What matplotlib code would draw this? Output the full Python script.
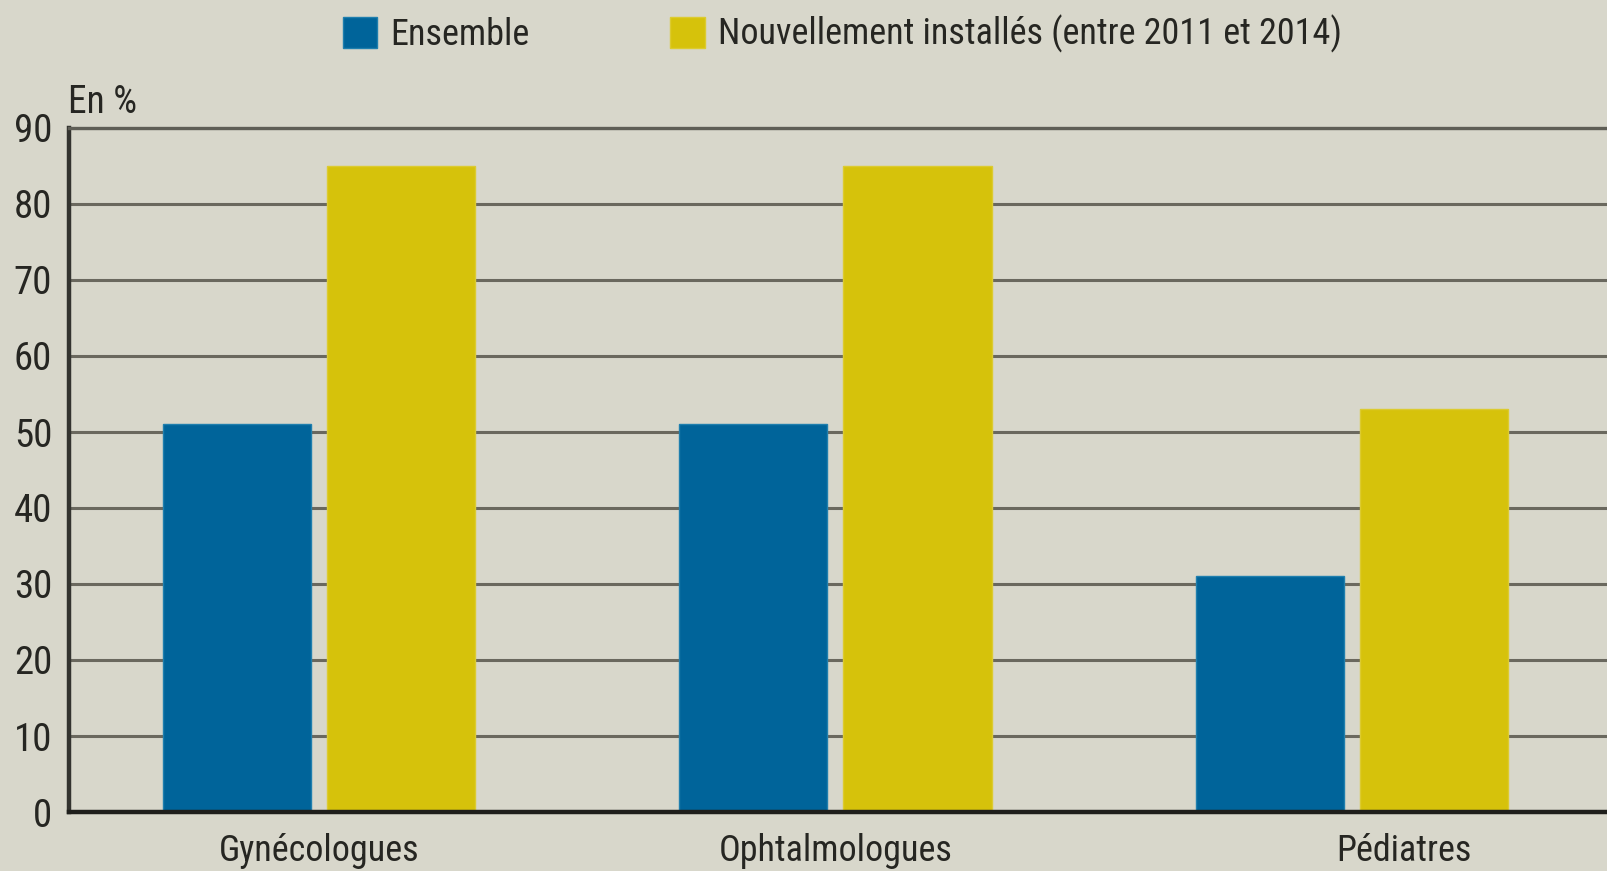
import numpy as np
import matplotlib.pyplot as plt
from matplotlib import rcParams
from matplotlib.patches import Patch

# Style: condensed sans, like the original
rcParams['font.family'] = ['Roboto Condensed', 'Archivo Narrow', 'PT Sans Narrow',
                           'IBM Plex Sans Condensed', 'Liberation Sans', 'DejaVu Sans']
rcParams['font.size'] = 26
rcParams['text.color'] = '#262622'
rcParams['xtick.color'] = '#262622'
rcParams['ytick.color'] = '#262622'

BG = '#d8d7cb'
BLUE = '#00649a'
YELLOW = '#d6c20b'

# Data
categories = ['Gynécologues', 'Ophtalmologues', 'Pédiatres']
ensemble = [51, 51, 31]
nouveaux = [85, 85, 53]
series_labels = ['Ensemble', 'Nouvellement installés (entre 2011 et 2014)']
yticks = [0, 10, 20, 30, 40, 50, 60, 70, 80, 90]

x = np.arange(len(categories))
width = 0.287
offset = 0.159
label_shift = np.array([0.0, 0.0, 0.1])

fig = plt.figure(figsize=(16.08, 8.71), dpi=100, facecolor=BG)
ax = fig.add_axes([69 / 1608, 1 - 812 / 871, 1 - 69 / 1608, (812 - 128) / 871])
ax.set_facecolor(BG)

ax.bar(x - offset, ensemble, width, color=BLUE, edgecolor='#1f7fae', linewidth=1.0, zorder=3)
ax.bar(x + offset, nouveaux, width, color=YELLOW, edgecolor='#dccb30', linewidth=1.0, zorder=3)

ax.set_ylim(0, 90)
ax.set_xlim(-0.484, 2.496)
ax.set_yticks(yticks)
ax.set_xticks(x + label_shift)
ax.set_xticklabels(categories)
ax.tick_params(axis='both', length=0)
ax.tick_params(axis='y', pad=12, labelsize=28)
ax.tick_params(axis='x', pad=15)

ax.yaxis.grid(True, color='#6a685e', linewidth=2.2, zorder=0)
ax.set_axisbelow(True)

ax.spines['right'].set_visible(False)
ax.spines['top'].set_color('#5f5e56')
ax.spines['top'].set_linewidth(2.4)
ax.spines['left'].set_color('#33332f')
ax.spines['left'].set_linewidth(3.2)
ax.spines['bottom'].set_color('#1f1f1c')
ax.spines['bottom'].set_linewidth(3.2)
ax.spines['bottom'].set_zorder(4)

fig.text(68 / 1608, 1 - 113 / 871, 'En %', ha='left', va='baseline', fontsize=27)

handles = [Patch(facecolor=BLUE, edgecolor='#1f7fae'),
           Patch(facecolor=YELLOW, edgecolor='#dccb30')]
fig.legend(handles, series_labels, loc='center left',
           bbox_to_anchor=(343 / 1608, 1 - 34 / 871), ncol=2, frameon=False,
           handlelength=0.95, handleheight=0.95, handletextpad=0.36,
           columnspacing=3.9, borderpad=0, borderaxespad=0, fontsize=26)

fig.savefig('out.png', dpi=100, facecolor=BG)
